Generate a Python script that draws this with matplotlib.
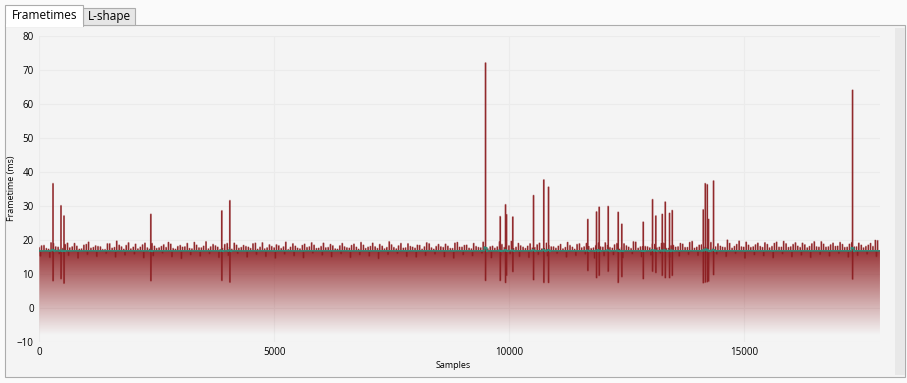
import numpy as np
import pandas as pd
import matplotlib.pyplot as plt
from matplotlib.patches import Rectangle

plt.rcParams['font.family'] = ['Open Sans', 'DejaVu Sans']

# dados (frametimes em ms)
n_samples = 17900
base_ms = 16.7

# picos grandes: amostra, altura e o quadro curto logo a seguir
spike_idx = [292, 462, 526, 2376, 3887, 4058, 9502, 9813, 9928, 9949,
             10083, 10524, 10743, 10843, 11680, 11865, 11920, 12112, 12325, 12404,
             12858, 13058, 13128, 13263, 13327, 13420, 13476, 14136, 14179, 14221,
             14251, 14357, 17317]
spike_ms = [36.5, 30.0, 27.0, 27.5, 28.5, 31.5, 72.0, 26.8, 30.3, 27.4,
            26.7, 33.0, 37.6, 35.5, 26.0, 28.2, 29.6, 29.8, 28.1, 24.6,
            25.2, 31.8, 27.0, 27.5, 31.1, 27.8, 28.6, 28.8, 36.5, 36.2,
            26.0, 37.3, 64.0]
dip_ms = [7.9, 8.5, 7.2, 7.9, 8.0, 7.5, 8.0, 8.0, 7.4, 9.5,
          10.6, 8.2, 7.4, 7.4, 10.9, 8.8, 9.5, 10.7, 7.4, 9.1,
          8.5, 10.7, 10.3, 9.5, 8.8, 8.8, 9.5, 7.3, 7.5, 7.6,
          7.8, 9.7, 8.4]

# pequenas oscilações para cima (a cada 100 amostras, em duas fases)
jitter_a_ms = [
    18.2, 17.4, 19.1, 17.9, 16.9, 18.6, 17.6, 18.9, 17.2, 18.4,
    19.3, 17.7, 18.0, 17.1, 18.8, 17.5, 19.6, 17.9, 18.3, 17.3,
    18.7, 17.8, 19.0, 17.2, 18.1, 17.6, 18.5, 19.2, 17.4, 18.0,
    17.8, 18.9, 17.3, 18.4, 17.6, 19.4, 17.9, 18.2, 17.1, 18.6,
    17.7, 19.0, 17.5, 18.3, 17.8, 18.8, 17.2, 19.1, 17.6, 18.0,
    18.5, 17.4, 19.3, 17.8, 18.1, 17.3, 18.7, 17.9, 18.4, 17.5,
    19.0, 17.7, 18.2, 17.2, 18.9, 17.6, 18.3, 17.8, 19.2, 17.4,
    18.0, 17.9, 18.6, 17.3, 19.4, 17.7, 18.2, 17.5, 18.8, 17.8,
    18.4, 17.2, 19.1, 17.6, 18.0, 17.9, 18.7, 17.4, 19.0, 17.8,
    18.3, 17.5, 18.9, 17.7, 19.3, 17.3, 18.1, 17.9, 18.6, 17.6,
    19.5, 17.8, 18.2, 17.4, 18.8, 17.7, 19.0, 17.5, 18.4, 17.9,
    18.1, 17.3, 19.2, 17.8, 18.6, 17.6, 18.9, 17.4, 18.3, 17.9,
    19.1, 17.7, 18.5, 17.2, 18.8, 17.8, 19.4, 17.5, 18.0, 17.9,
    18.7, 17.6, 19.0, 17.4, 18.3, 17.8, 18.9, 17.7, 19.2, 17.5,
    18.4, 17.9, 19.6, 17.6, 18.8, 17.8, 19.9, 17.5, 18.6, 17.9,
    19.3, 17.7, 18.5, 18.0, 19.1, 17.6, 18.9, 17.8, 19.5, 17.7,
    18.6, 18.1, 19.0, 17.6, 18.8, 17.9, 19.4, 17.8, 18.5, 18.0,
    19.2, 17.7, 18.7, 17.9, 19.0, 17.6, 18.4, 18.0, 19.7,
]
jitter_b_ms = [
    17.6, 18.3, 17.2, 18.9, 17.8, 17.4, 19.0, 17.9, 18.1, 17.3,
    18.6, 17.5, 18.2, 17.9, 17.1, 18.8, 17.7, 18.4, 17.2, 19.1,
    17.8, 17.3, 18.5, 17.6, 18.9, 17.4, 18.0, 17.7, 18.7, 17.2,
    18.3, 17.9, 17.4, 19.2, 17.6, 18.1, 17.3, 18.6, 17.8, 17.5,
    18.9, 17.2, 18.4, 17.7, 18.0, 17.4, 19.0, 17.8, 17.3, 18.5,
    17.6, 18.2, 17.9, 17.1, 18.8, 17.5, 18.3, 17.7, 19.1, 17.4,
    18.0, 17.6, 18.6, 17.3, 18.2, 17.9, 17.5, 18.7, 17.2, 18.4,
    17.8, 19.0, 17.4, 18.1, 17.7, 18.5, 17.3, 18.9, 17.6, 18.0,
    17.5, 18.3, 17.9, 18.8, 17.2, 18.6, 17.7, 18.1, 17.4, 19.2,
    17.8, 18.4, 17.3, 18.0, 17.6, 18.7, 17.9, 17.5, 19.4, 17.7,
    18.2, 17.4, 18.9, 17.8, 18.1, 17.6, 18.5, 17.3, 19.0, 17.9,
    17.5, 18.6, 17.7, 18.3, 17.2, 18.8, 17.9, 18.0, 17.6, 19.1,
    17.8, 18.4, 17.5, 18.9, 17.7, 18.2, 17.4, 19.3, 17.9, 18.0,
    17.6, 18.6, 17.8, 19.0, 17.5, 18.3, 17.9, 18.7, 17.7, 19.5,
    17.8, 18.5, 17.6, 19.2, 17.9, 18.1, 17.7, 18.9, 18.0, 19.6,
    17.8, 18.4, 17.9, 19.0, 17.7, 18.6, 18.0, 19.3, 17.8, 18.8,
    17.9, 19.1, 17.7, 18.5, 18.0, 19.4, 17.8, 18.7, 17.9, 19.0,
    18.1, 18.6, 17.8, 19.2, 17.9, 18.4, 18.0, 18.9, 19.8,
]
# pequenas quedas (a cada 200 amostras)
queda_ms = [
    15.2, 14.8, 15.9, 15.4, 14.6, 15.7, 15.1, 16.0, 14.9, 15.5,
    15.8, 14.7, 15.3, 16.1, 15.0, 14.5, 15.6, 15.2, 15.9, 14.8,
    15.4, 16.0, 14.9, 15.7, 15.1, 14.6, 15.8, 15.3, 14.7, 16.1,
    15.5, 15.0, 15.9, 14.8, 15.6, 15.2, 14.5, 15.7, 16.0, 15.1,
    14.9, 15.4, 15.8, 15.0, 14.6, 15.6, 15.3, 16.1, 14.7, 15.5,
    15.9, 15.1, 14.8, 15.7, 15.2, 16.0, 14.9, 15.4, 15.8, 14.6,
    15.3, 15.6, 14.7, 15.9, 15.0, 15.5, 16.1, 14.8, 15.2, 15.7,
    15.4, 14.9, 15.8, 15.1, 16.0, 14.6, 15.6, 15.3, 14.7, 15.9,
    15.0, 15.5, 14.8, 15.7, 15.2, 16.0, 14.9, 15.4, 15.8, 15.1,
]

frametime = np.full(n_samples, base_ms)
for i, v in enumerate(jitter_b_ms):
    frametime[i * 100] = v
for i, v in enumerate(jitter_a_ms):
    frametime[i * 100 + 50] = v
for i, v in enumerate(queda_ms):
    frametime[i * 200 + 25] = v
for s, v, d in zip(spike_idx, spike_ms, dip_ms):
    frametime[s] = v
    frametime[s + 1] = d
x = np.arange(n_samples)
media = pd.Series(frametime).rolling(50, center=True, min_periods=1).mean().values

W, H = 907, 383
fig = plt.figure(figsize=(W / 100, H / 100), dpi=100, facecolor='#fafafa')


def ret(x0, y0, x1, y1, **kw):
    # retângulo em pixels (origem no topo), atrás dos eixos
    r = Rectangle((x0 / W, 1 - y1 / H), (x1 - x0) / W, (y1 - y0) / H,
                  transform=fig.transFigure, zorder=-5, **kw)
    fig.patches.append(r)


# painel e abas
ret(5, 25, 905, 376.5, facecolor='#f4f4f4', edgecolor='#acacac', lw=0.8)
ret(895, 28, 905, 375, facecolor='#e8e8e8', edgecolor='none')
ret(83, 7.7, 135.3, 25, facecolor='#e6e6e6', edgecolor='#acacac', lw=0.8)
ret(5, 5.3, 83, 25.6, facecolor='#ffffff', edgecolor='#acacac', lw=0.8)
ret(5.5, 24.5, 82.5, 26.5, facecolor='#ffffff', edgecolor='none')
fig.text(44.5 / W, 1 - 15.5 / H, 'Frametimes', ha='center', va='center', fontsize=8.5)
fig.text(109 / W, 1 - 16.5 / H, 'L-shape', ha='center', va='center', fontsize=8.5)

ax = fig.add_axes([39.3 / W, 1 - 341.7 / H, (880 - 39.3) / W, (341.7 - 35.7) / H])
ax.set_facecolor('none')
ax.set_xlim(0, n_samples)
ax.set_ylim(-10, 80)

# preenchimento em degradê, recortado pela área sob a curva
poly = ax.fill_between(x, frametime, -10, facecolor='none', lw=0)
yy = np.linspace(-10, 80, 600)
alpha = np.clip((yy + 8) / 25 * 0.9, 0, 0.9)
alpha[yy > 17.3] = 0.4
img = np.zeros((len(yy), 2, 4))
img[:, :, 0] = 0.56
img[:, :, 1] = 0.12
img[:, :, 2] = 0.13
img[:, :, 3] = alpha[:, None]
im = ax.imshow(img, origin='lower', extent=[0, n_samples, -10, 80], aspect='auto',
               interpolation='bilinear', zorder=1)
im.set_clip_path(poly.get_paths()[0], transform=ax.transData)

# linha com halo claro e núcleo escuro
ax.plot(x, frametime, color='#8b1c1f', lw=1.4, alpha=0.35, zorder=2)
ax.plot(x, frametime, color='#8b1c1f', lw=0.5, alpha=0.9, zorder=2)
ax.plot(x, media, color='#348a78', lw=1.2, zorder=3)

ax.set_xticks([0, 5000, 10000, 15000])
ax.set_yticks(range(-10, 81, 10))
ax.grid(True, color='#ebebeb', lw=0.8)
ax.set_axisbelow(True)
for sp in ax.spines.values():
    sp.set_visible(False)
ax.tick_params(length=0, labelsize=7, pad=4)
ax.set_xlabel('Samples', fontsize=6.5)
ax.set_ylabel('Frametime (ms)', fontsize=6.5)
ax.xaxis.set_label_coords((453 - 39.3) / (880 - 39.3), -(361 - 341.7) / 306)
ax.yaxis.set_label_coords(-(39.3 - 16) / 840.7, 0.5)

plt.savefig('out.png', dpi=100, facecolor=fig.get_facecolor())
plt.close()
